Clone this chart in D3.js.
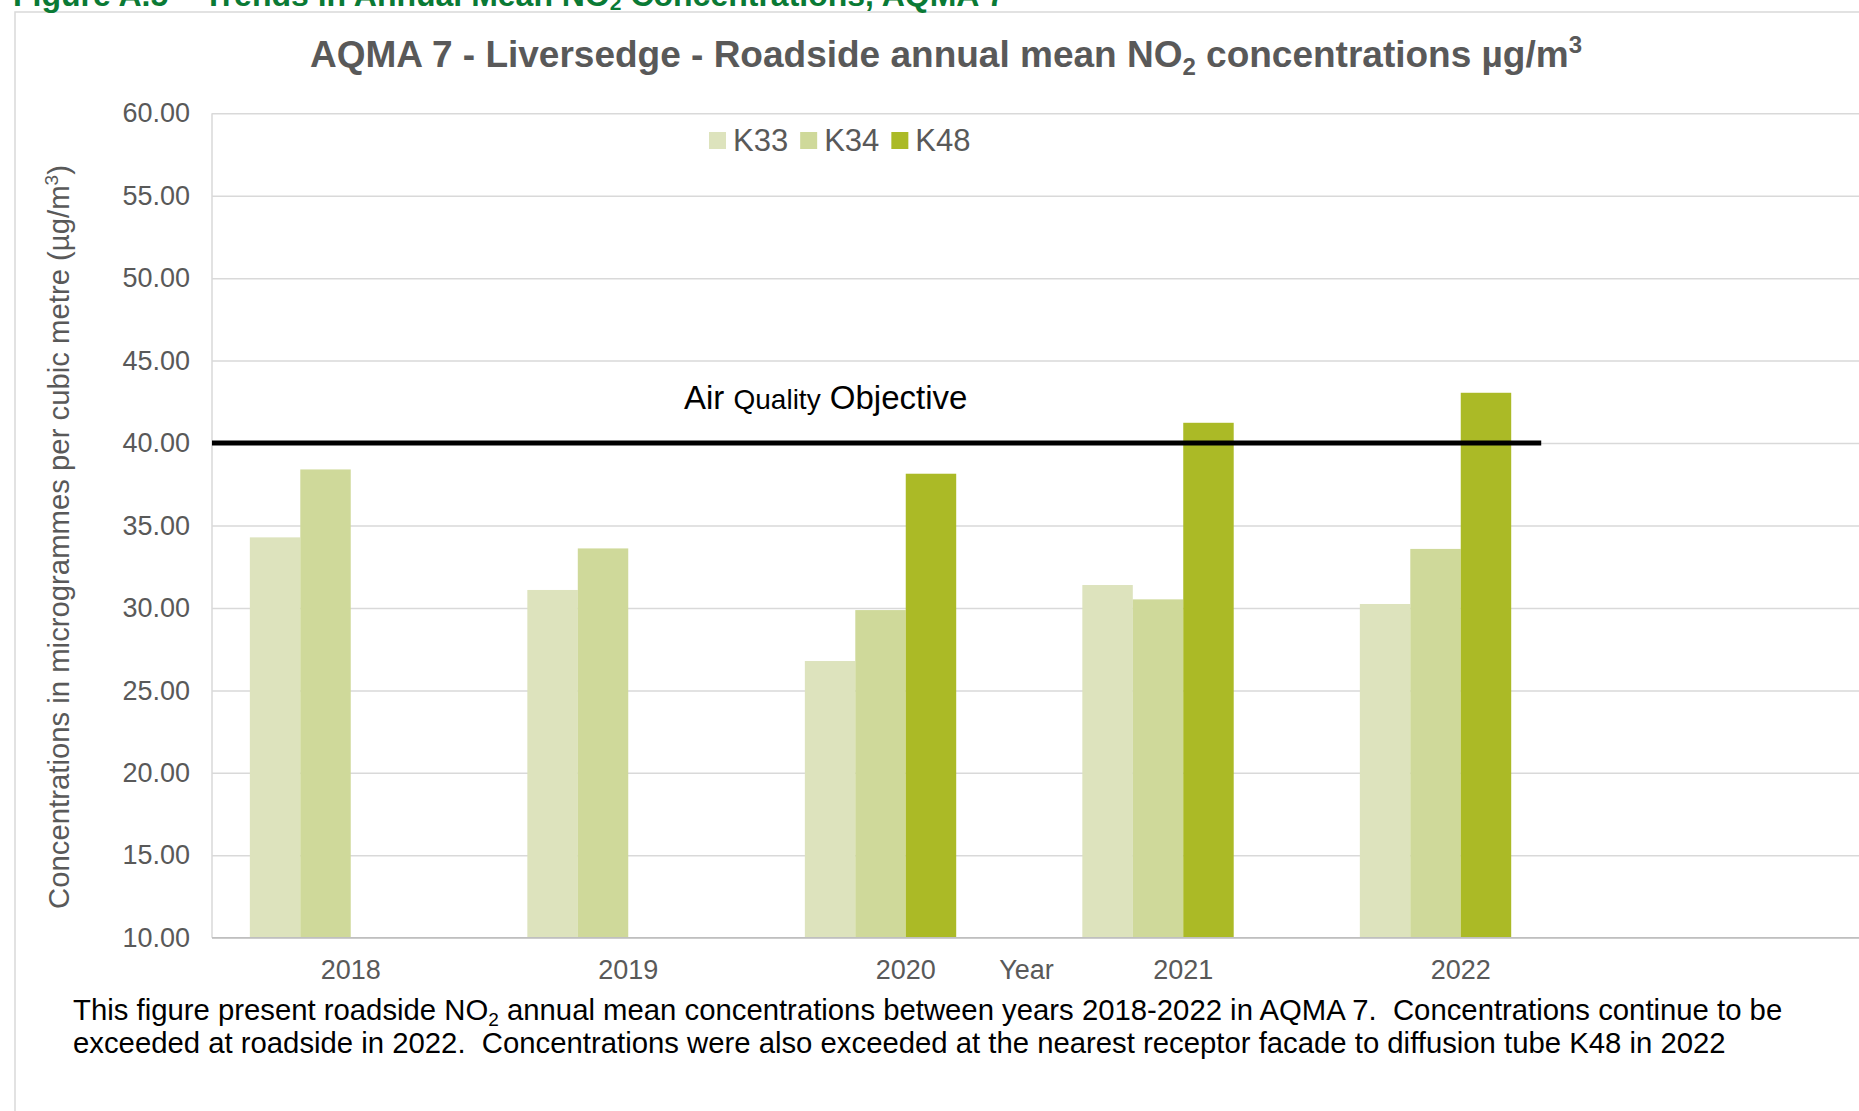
<!DOCTYPE html>
<html>
<head>
<meta charset="utf-8">
<script src="https://cdn.jsdelivr.net/npm/d3@7"></script>
<style>
  html, body { margin: 0; padding: 0; background: #ffffff; overflow: hidden; }
  svg { display: block; font-family: "Liberation Sans", Arial, sans-serif; }
  text { white-space: pre; }
</style>
</head>
<body>
<svg id="chart" width="1859" height="1111"></svg>
<script>
// ---------------- data ----------------
const years = ["2018", "2019", "2020", "2021", "2022"];
const seriesNames = ["K33", "K34", "K48"];
const k33 = [34.28, 31.09, 26.78, 31.39, 30.24];
const k34 = [38.40, 33.61, 29.87, 30.52, 33.58];
const k48 = [null, null, 38.14, 41.23, 43.05];
const yTicks = [10, 15, 20, 25, 30, 35, 40, 45, 50, 55, 60];
const aqoValue = 40;
const seriesColors = ["#dde3bd", "#cfd99a", "#abba26"];

const headerText = "Figure A.5 \u2013 Trends in Annual Mean NO";
const titleParts = ["AQMA 7 - Liversedge - Roadside annual mean NO", "2", " concentrations \u00b5g/m", "3"];
const yLabelParts = ["Concentrations in microgrammes per cubic metre (\u00b5g/m", "3", ")"];
const xLabel = "Year";
const captionLine1 = ["This figure present roadside NO", "2", " annual mean concentrations between years 2018-2022 in AQMA 7.  Concentrations continue to be"];
const captionLine2 = "exceeded at roadside in 2022.  Concentrations were also exceeded at the nearest receptor facade to diffusion tube K48 in 2022";

// ---------------- layout ----------------
const svg = d3.select("#chart");
const plotLeft = 212, plotTop = 113.3, plotBottom = 937.7, plotRight = 1877;
const bandStep = 277.5;
const gray = "#595959";

// chart frame (extends past right/bottom edge)
svg.append("rect").attr("x", 15).attr("y", 12).attr("width", 2000).attr("height", 1200)
  .attr("fill", "#ffffff").attr("stroke", "#d9d9d9").attr("stroke-width", 1.5);

// green header (cut off at top, as in the source document)
const hdr = svg.append("text").attr("x", 13).attr("y", 6)
  .attr("font-size", 32).attr("font-weight", "bold").attr("fill", "#0a7a35");
hdr.append("tspan").text(headerText);
hdr.append("tspan").attr("font-size", 21).attr("dy", 4).text("2");
hdr.append("tspan").attr("dy", -4).text(" Concentrations, AQMA 7");

// scales
const x = d3.scaleBand().domain(years).range([plotLeft, plotLeft + bandStep * years.length]).paddingInner(0).paddingOuter(0);
const x1 = d3.scaleBand().domain(seriesNames.concat(["AQO"])).range([0, x.bandwidth()]).paddingInner(0).paddingOuter(0.75);
const y = d3.scaleLinear().domain([10, 60]).range([plotBottom, plotTop]);

// gridlines + y tick labels
const yAxis = d3.axisLeft(y).tickValues(yTicks).tickFormat(d3.format(".2f"))
  .tickSize(-(plotRight - plotLeft)).tickPadding(22);
const gy = svg.append("g").attr("transform", `translate(${plotLeft},0)`).call(yAxis);
gy.select(".domain").remove();
gy.selectAll(".tick line").attr("stroke", "#d9d9d9").attr("stroke-width", 1.5);
gy.selectAll(".tick text").attr("fill", gray).attr("font-size", 27)
  .attr("font-family", "Liberation Sans, Arial, sans-serif");

// left plot border
svg.append("line").attr("x1", plotLeft).attr("x2", plotLeft).attr("y1", plotTop).attr("y2", plotBottom)
  .attr("stroke", "#d9d9d9").attr("stroke-width", 1.5);

// bars
const seriesValues = [k33, k34, k48];
seriesNames.forEach((name, si) => {
  const data = years.map((yr, i) => ({ yr, v: seriesValues[si][i] })).filter(d => d.v != null);
  svg.append("g").selectAll("rect").data(data).join("rect")
    .attr("x", d => x(d.yr) + x1(name))
    .attr("width", x1.bandwidth())
    .attr("y", d => y(d.v))
    .attr("height", d => y(10) - y(d.v))
    .attr("fill", seriesColors[si]);
});

// x axis
const xAxis = d3.axisBottom(x).tickSize(0).tickPadding(22);
const gx = svg.append("g").attr("transform", `translate(0,${plotBottom})`).call(xAxis);
gx.select(".domain").remove();
gx.selectAll(".tick text").attr("fill", gray).attr("font-size", 27)
  .attr("font-family", "Liberation Sans, Arial, sans-serif");
svg.append("line").attr("x1", plotLeft).attr("x2", plotRight).attr("y1", plotBottom).attr("y2", plotBottom)
  .attr("stroke", "#bfbfbf").attr("stroke-width", 1.5);

// x axis title
svg.append("text").attr("x", x("2020") + x.bandwidth() * 0.935).attr("y", 979)
  .attr("text-anchor", "middle").attr("font-size", 27).attr("fill", gray).text(xLabel);

// AQO line
svg.append("line").attr("x1", plotLeft).attr("x2", x("2022") + x.bandwidth() * 0.79)
  .attr("y1", y(aqoValue)).attr("y2", y(aqoValue)).attr("stroke", "#000").attr("stroke-width", 5);
const aqoLabel = svg.append("text").attr("x", 684).attr("y", 409).attr("fill", "#000").attr("font-size", 33);
aqoLabel.append("tspan").text("Air ");
aqoLabel.append("tspan").attr("font-size", 28).text("Quality");
aqoLabel.append("tspan").text(" Objective");

// title
const title = svg.append("text").attr("x", 946).attr("y", 67).attr("text-anchor", "middle")
  .attr("font-size", 37).attr("font-weight", "bold").attr("fill", gray);
title.append("tspan").text(titleParts[0]);
title.append("tspan").attr("font-size", 24).attr("dy", 8).text(titleParts[1]);
title.append("tspan").attr("dy", -8).text(titleParts[2]);
title.append("tspan").attr("font-size", 24).attr("dy", -14).text(titleParts[3]);

// y axis title
const yl = svg.append("text").attr("transform", "translate(69,537) rotate(-90)")
  .attr("text-anchor", "middle").attr("font-size", 29.3).attr("fill", gray);
yl.append("tspan").text(yLabelParts[0]);
yl.append("tspan").attr("font-size", 19).attr("dy", -11).text(yLabelParts[1]);
yl.append("tspan").attr("dy", 11).text(yLabelParts[2]);

// legend
let lx = 709;
seriesNames.forEach((name, i) => {
  svg.append("rect").attr("x", lx).attr("y", 132).attr("width", 17).attr("height", 17).attr("fill", seriesColors[i]);
  const t = svg.append("text").attr("x", lx + 24).attr("y", 151).attr("font-size", 31).attr("fill", gray).text(name);
  lx += 24 + t.node().getComputedTextLength() + 12;
});

// caption
const c1 = svg.append("text").attr("x", 73).attr("y", 1020).attr("font-size", 29.3).attr("fill", "#000");
c1.append("tspan").text(captionLine1[0]);
c1.append("tspan").attr("font-size", 19).attr("dy", 6).text(captionLine1[1]);
c1.append("tspan").attr("dy", -6).text(captionLine1[2]);
svg.append("text").attr("x", 73).attr("y", 1053).attr("font-size", 29.3).attr("fill", "#000").text(captionLine2);
</script>
</body>
</html>
